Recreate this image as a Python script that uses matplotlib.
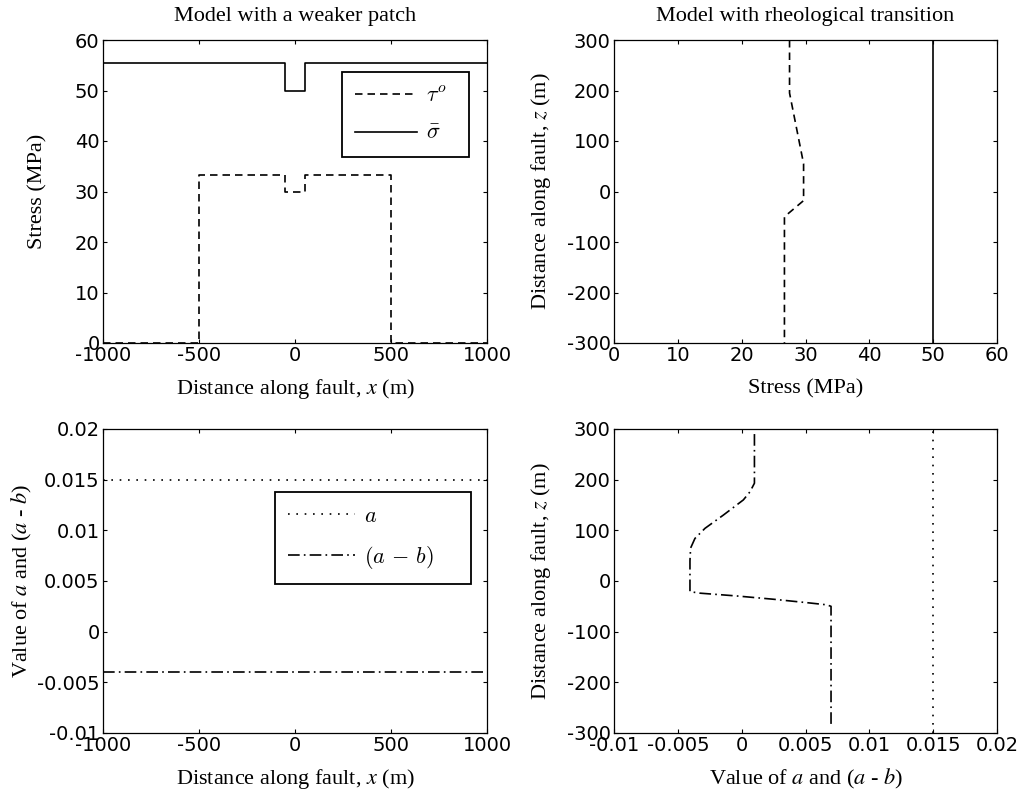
import numpy as np
import matplotlib
matplotlib.use("Agg")
import matplotlib.pyplot as plt

plt.rcParams["font.family"] = "DejaVu Sans"
plt.rcParams["mathtext.fontset"] = "stix"
plt.rcParams["axes.unicode_minus"] = False

# weaker patch model (along x)
x_sigma = [-1000, -50, -50, 50, 50, 1000]
sigma_patch = [55.5, 55.5, 50, 50, 55.5, 55.5]
x_tau = [-1000, -500, -500, -50, -50, 50, 50, 500, 500, 1000]
tau_patch = [0, 0, 33.3, 33.3, 30, 30, 33.3, 33.3, 0, 0]
x_ab = [-1000, 1000]
a_patch = [0.015, 0.015]
amb_patch = [-0.004, -0.004]

# rheological transition model (along z)
z_tau = [300, 195, 55, -18, -50, -300]
tau_rheo = [27.5, 27.5, 29.7, 29.7, 26.7, 26.7]
z_sigma = [-300, 300]
sigma_rheo = [50, 50]
z_amb = [290, 193, 176, 160, 130, 104, 84, 65, 40, -21, -24, -29.5, -36, -43, -47, -50, -290]
amb_rheo = [0.001, 0.001, 0.00065, 0.00013, -0.00144, -0.00287, -0.00366, -0.004, -0.00405,
            -0.00405, -0.00327, -0.0004, 0.00248, 0.0052, 0.00666, 0.007, 0.007]
z_a = [-300, 300]
a_rheo = [0.015, 0.015]

xticks_x = [-1000, -500, 0, 500, 1000]
yticks_stress = [0, 10, 20, 30, 40, 50, 60]
ticks_z = [-300, -200, -100, 0, 100, 200, 300]
ticks_ab = [-0.01, -0.005, 0, 0.005, 0.01, 0.015, 0.02]
ticklabels_ab = ["-0.01", "-0.005", "0", "0.005", "0.01", "0.015", "0.02"]

serif = "Liberation Serif"
lab_fs = 16
tick_fs = 14
dashed = (0, (4.5, 3))
dotted = (0, (1, 4))
dashdot = (0, (7, 2.5, 1, 2.5))

W, H = 1026, 796
fig = plt.figure(figsize=(W / 100, H / 100), dpi=100)
ax1 = fig.add_axes([103 / W, 1 - 343 / H, 384 / W, 303 / H])
ax2 = fig.add_axes([614 / W, 1 - 343 / H, 383 / W, 303 / H])
ax3 = fig.add_axes([103 / W, 1 - 733 / H, 384 / W, 304 / H])
ax4 = fig.add_axes([614 / W, 1 - 733 / H, 383 / W, 304 / H])

lw = 1.2
l_tau, = ax1.plot(x_tau, tau_patch, color="k", lw=lw, linestyle=dashed)
l_sig, = ax1.plot(x_sigma, sigma_patch, color="k", lw=lw)
ax1.set_xlim(-1000, 1000)
ax1.set_ylim(0, 60)
ax1.set_xticks(xticks_x)
ax1.set_yticks(yticks_stress)
ax1.set_title("Model with a weaker patch", fontfamily=serif, fontsize=lab_fs, pad=14)
ax1.set_xlabel(r"Distance along fault, $x$ (m)", fontfamily=serif, fontsize=lab_fs)
ax1.set_ylabel("Stress (MPa)", fontfamily=serif, fontsize=lab_fs)
leg1 = ax1.legend([l_tau, l_sig], [r"$\tau^o$", r"$\bar{\sigma}$"],
                  bbox_to_anchor=(0.622, 0.614, 0.331, 0.28), loc="center", mode="expand",
                  borderaxespad=0, fontsize=lab_fs, handlelength=2.8, handletextpad=0.4,
                  labelspacing=0.8, borderpad=0.6, fancybox=False, framealpha=1)

ax2.plot(tau_rheo, z_tau, color="k", lw=lw, linestyle=dashed)
ax2.plot(sigma_rheo, z_sigma, color="k", lw=lw)
ax2.set_xlim(0, 60)
ax2.set_ylim(-300, 300)
ax2.set_xticks(yticks_stress)
ax2.set_yticks(ticks_z)
ax2.set_title("Model with rheological transition", fontfamily=serif, fontsize=lab_fs, pad=14)
ax2.set_xlabel("Stress (MPa)", fontfamily=serif, fontsize=lab_fs)
ax2.set_ylabel(r"Distance along fault, $z$ (m)", fontfamily=serif, fontsize=lab_fs)

l_a, = ax3.plot(x_ab, a_patch, color="k", lw=lw, linestyle=dotted)
l_amb, = ax3.plot(x_ab, amb_patch, color="k", lw=lw, linestyle=dashdot)
ax3.set_xlim(-1000, 1000)
ax3.set_ylim(-0.01, 0.02)
ax3.set_xticks(xticks_x)
ax3.set_yticks(ticks_ab)
ax3.set_yticklabels(ticklabels_ab)
ax3.set_xlabel(r"Distance along fault, $x$ (m)", fontfamily=serif, fontsize=lab_fs)
ax3.set_ylabel(r"Value of $a$ and ($a$ - $b$)", fontfamily=serif, fontsize=lab_fs)
leg3 = ax3.legend([l_a, l_amb], [r"$a$", r"$(a\,-\,b)$"],
                  bbox_to_anchor=(0.448, 0.493, 0.51, 0.296), loc="center", mode="expand",
                  borderaxespad=0, fontsize=lab_fs, handlelength=3.0, handletextpad=0.4,
                  labelspacing=0.8, borderpad=0.6, fancybox=False, framealpha=1)

ax4.plot(amb_rheo, z_amb, color="k", lw=lw, linestyle=dashdot)
ax4.plot(a_rheo, z_a, color="k", lw=lw, linestyle=dotted)
ax4.set_xlim(-0.01, 0.02)
ax4.set_ylim(-300, 300)
ax4.set_xticks(ticks_ab)
ax4.set_xticklabels(ticklabels_ab)
ax4.set_yticks(ticks_z)
ax4.set_xlabel(r"Value of $a$ and ($a$ - $b$)", fontfamily=serif, fontsize=lab_fs)
ax4.set_ylabel(r"Distance along fault, $z$ (m)", fontfamily=serif, fontsize=lab_fs)

for leg in (leg1, leg3):
    fr = leg.get_frame()
    fr.set_edgecolor("k")
    fr.set_linewidth(1.3)
    for t in leg.get_texts():
        t.set_math_fontfamily("cm")

ylab_x = {ax1: -0.169, ax2: -0.19, ax3: -0.211, ax4: -0.19}
for ax in (ax1, ax2, ax3, ax4):
    for s in ax.spines.values():
        s.set_linewidth(0.9)
    ax.tick_params(direction="in", length=3, width=0.8, top=True, right=True,
                   labelsize=tick_fs, pad=2.5)
    ax.xaxis.set_label_coords(0.5, -0.152)
    ax.xaxis.label.set_va("center")
    ax.yaxis.set_label_coords(ylab_x[ax], 0.5)
    ax.yaxis.label.set_va("center")

fig.savefig("out.png", dpi=100)
